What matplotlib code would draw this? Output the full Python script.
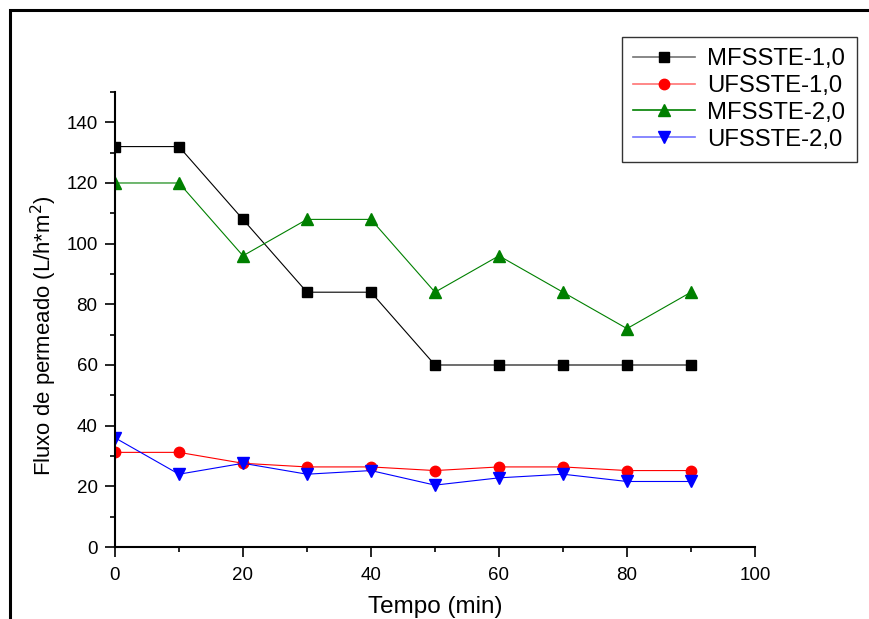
import matplotlib
matplotlib.use("Agg")
import matplotlib.pyplot as plt
from matplotlib.colors import to_rgba
from matplotlib.patches import Rectangle
from matplotlib.ticker import MultipleLocator

plt.rcParams['font.family'] = ['Liberation Sans', 'DejaVu Sans']

tempo = [0, 10, 20, 30, 40, 50, 60, 70, 80, 90]
mf_1 = [132, 132, 108, 84, 84, 60, 60, 60, 60, 60]
uf_1 = [31.2, 31.2, 27.6, 26.4, 26.4, 25.2, 26.4, 26.4, 25.2, 25.2]
mf_2 = [120, 120, 96, 108, 108, 84, 96, 84, 72, 84]
uf_2 = [36.0, 24.0, 27.6, 24.0, 25.2, 20.4, 22.8, 24.0, 21.6, 21.6]

fig = plt.figure(figsize=(8.69, 6.19), dpi=100)
ax = fig.add_axes([0.1323, 0.1163, 0.7365, 0.7351])

# outer frame (cut off at right and bottom like the original)
fig.patches.append(Rectangle((10 / 869, -0.05), 1.1, 1 - 10 / 619 + 0.05,
                             transform=fig.transFigure, fill=False,
                             edgecolor="black", linewidth=2.2))

series = [
    (mf_1, "black", "s", 6.5, "MFSSTE-1,0"),
    (uf_1, "red", "o", 7.5, "UFSSTE-1,0"),
    (mf_2, "green", "^", 8.5, "MFSSTE-2,0"),
    (uf_2, "blue", "v", 8.5, "UFSSTE-2,0"),
]
for values, color, marker, ms, label in series:
    ax.plot(tempo, values, color=color, marker=marker, markersize=ms,
            markerfacecolor=color, markeredgecolor=color, linewidth=0.8,
            label=label)

ax.set_xlim(0, 100)
ax.set_ylim(0, 150)
ax.xaxis.set_major_locator(MultipleLocator(20))
ax.xaxis.set_minor_locator(MultipleLocator(10))
ax.yaxis.set_major_locator(MultipleLocator(20))
ax.yaxis.set_minor_locator(MultipleLocator(10))
ax.set_yticks([0, 20, 40, 60, 80, 100, 120, 140])

for side in ["top", "right"]:
    ax.spines[side].set_visible(False)
for side in ["left", "bottom"]:
    ax.spines[side].set_linewidth(1.5)
ax.tick_params(which="major", length=7.5, width=1.2, labelsize=13.5, direction="out")
ax.tick_params(axis="x", which="major", pad=7)
ax.tick_params(axis="y", which="major", pad=5)
ax.tick_params(which="minor", length=3.8, width=1.2, direction="out")

ax.set_xlabel("Tempo (min)", fontsize=17.5)
ax.set_ylabel("Fluxo de permeado (L/h*m$^2$)", fontsize=15.9)
ax.xaxis.set_label_coords(0.5, -0.108)
ax.yaxis.set_label_coords(-0.088, 0.464)

leg = ax.legend(loc="upper left", bbox_to_anchor=(622 / 869, 1 - 37 / 619),
                bbox_transform=fig.transFigure, borderaxespad=0,
                fontsize=17.2, frameon=True, fancybox=False,
                edgecolor="black", handlelength=2.6, borderpad=0.47,
                labelspacing=0.2, handletextpad=0.5)
leg.get_frame().set_linewidth(1.0)
for line in leg.get_lines():
    c = line.get_color()
    alpha = 1.0 if c == "green" else 0.55
    line.set_color(to_rgba(c, alpha))
    line.set_markerfacecolor(c)
    line.set_markeredgecolor(c)
    line.set_linewidth(1.2)

fig.savefig("out.png", dpi=100)
